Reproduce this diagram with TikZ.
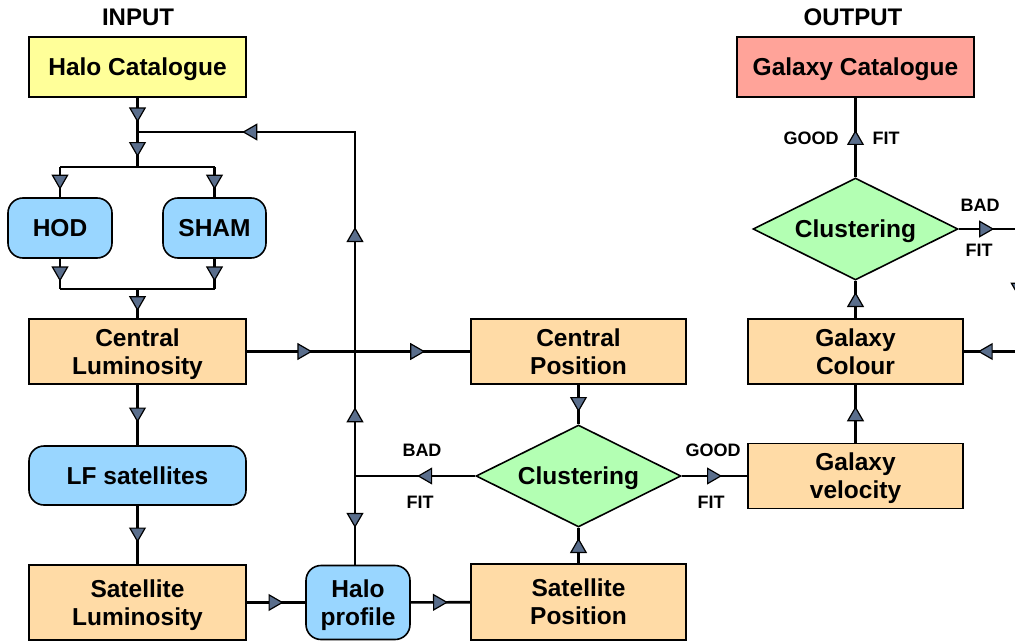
\documentclass[tikz,border=0pt]{standalone}
\usepackage{fontspec}
\setmainfont{Liberation Sans}
\usepackage{xcolor}
\usepackage{tikz}
\usetikzlibrary{arrows.meta}
\usetikzlibrary{shapes.geometric}
\usetikzlibrary{decorations.markings}
\definecolor{halofill}{HTML}{FFFF99}
\definecolor{stepfill}{HTML}{FFDBA6}
\definecolor{choicefill}{HTML}{99D6FF}
\definecolor{testfill}{HTML}{B3FFB3}
\definecolor{outfill}{HTML}{FFA399}
\definecolor{tipfill}{HTML}{5A6E8C}
\tikzset{
    tri/.tip = {Triangle[length=15pt, width=17pt, fill=tipfill, line width=1.2pt]},
    flow/.style = {postaction={decorate, decoration={markings,
        mark=at position #1 with {\pgftransformxshift{7.5pt}\arrow{tri}}}}},
    flow/.default = 0.5,
    link/.style = {draw=black, line width=2.6pt}
}
\tikzset{
    box/.style = {draw=black, line width=1.6pt, align=center, inner sep=0pt, text centered,
        text depth=0pt, font=\fontsize{24.5}{28}\selectfont\bfseries},
    inbox/.style = {box, rectangle, fill=halofill, minimum width=217pt, minimum height=60pt},
    outbox/.style = {box, rectangle, fill=outfill, minimum width=237pt, minimum height=60pt},
    stepbox/.style = {box, rectangle, fill=stepfill, minimum width=215pt},
    choice/.style = {box, rectangle, rounded corners=15pt, fill=choicefill, minimum height=60pt},
    test/.style = {box, diamond, aspect=2, fill=testfill, minimum width=205pt, minimum height=102pt},
    title/.style = {font=\fontsize{24}{28}\selectfont\bfseries, inner sep=0pt},
    verdict/.style = {font=\fontsize{18}{20}\selectfont\bfseries, inner sep=0pt}
}

\begin{document}
\begin{tikzpicture}[x=1pt, y=-1pt]
    \useasboundingbox (0,0) rectangle (1015,642);
    \clip (0,0) rectangle (1015,642);

    % input side
    \node [title] (inlab) at (138,17) {INPUT};
    \node [inbox] (halo) at (137.5,67) {Halo Catalogue};
    \node [choice, minimum width=104pt] (hod) at (60,228) {HOD};
    \node [choice, minimum width=103pt] (sham) at (214.5,228) {SHAM};
    \node [stepbox, minimum width=217pt, minimum height=65pt] (cenlum) at (137.5,351.5) {Central\\Luminosity};
    \node [choice, minimum width=217pt, minimum height=59pt] (lfsat) at (137.5,475.5) {LF satellites};
    \node [stepbox, minimum width=217pt, minimum height=75pt] (satlum) at (137.5,602.5) {Satellite\\Luminosity};
    \node [choice, minimum width=104pt, minimum height=74pt] (hprof) at (358,602.5) {Halo\\profile};

    % positions and first clustering test
    \node [stepbox, minimum height=65pt] (cenpos) at (578.5,351.5) {Central\\Position};
    \node [stepbox, minimum height=76pt] (satpos) at (578.5,602) {Satellite\\Position};
    \node [test] (clusa) at (578.5,476) {Clustering};

    % output side
    \node [stepbox, minimum height=65pt] (galvel) at (855.5,476) {Galaxy\\velocity};
    \node [stepbox, minimum height=65pt] (galcol) at (855.5,351.5) {Galaxy\\Colour};
    \node [test] (clusb) at (855.5,229) {Clustering};
    \node [outbox] (galcat) at (855.5,67) {Galaxy Catalogue};
    \node [title] (outlab) at (853,17) {OUTPUT};

    \coordinate (split) at (137.5,132);
    \coordinate (fork) at (137.5,167);
    \coordinate (forkl) at (60,167);
    \coordinate (forkr) at (214.5,167);
    \coordinate (joinl) at (60,289);
    \coordinate (joinr) at (214.5,289);
    \coordinate (join) at (137.5,289);
    \coordinate (loop) at (355,476);
    \coordinate (looptop) at (355,132);
    \coordinate (outa) at (1019,229);
    \coordinate (outb) at (1019,351.5);

    \draw [link, flow] (halo) -- (split);
    \draw [link, flow] (split) -- (fork);
    \draw [link] (forkl) -- (forkr);
    \draw [link, flow] (forkl) -- (hod);
    \draw [link, flow] (forkr) -- (sham);
    \draw [link, flow] (hod) -- (joinl);
    \draw [link, flow] (sham) -- (joinr);
    \draw [link] (joinl) -- (joinr);
    \draw [link, flow] (join) -- (cenlum);
    \draw [link, flow=0.26, flow=0.765] (cenlum) -- (cenpos);
    \draw [link, flow] (cenlum) -- (lfsat);
    \draw [link, flow] (lfsat) -- (satlum);
    \draw [link, flow] (satlum) -- (hprof);
    \draw [link, flow] (hprof) -- (satpos);
    \draw [link, flow] (satpos) -- (clusa);
    \draw [link, flow] (cenpos) -- (clusa);
    \draw [link, flow=0.42] (clusa) -- (loop);
    \draw [link, flow] (loop) -- (loop |- hprof.north);
    \draw [link, flow=0.109, flow=0.43, flow=0.80] (loop) -- (looptop) -- (split);
    \draw [link, flow] (clusa) -- (galvel);
    \draw [link, flow] (galvel) -- (galcol);
    \draw [link, flow] (galcol) -- (clusb);
    \draw [link, flow] (clusb) -- (galcat);
    \draw [link, flow=0.117, flow=0.51, flow=0.91] (clusb) -- (outa) -- (outb) -- (galcol);

    % verdict labels
    \node [verdict] (bada) at (422,450) {BAD};
    \node [verdict] (fita) at (420,502) {FIT};
    \node [verdict] (gooda) at (713,450) {GOOD};
    \node [verdict] (fitb) at (711,502) {FIT};
    \node [verdict] (goodb) at (811,138) {GOOD};
    \node [verdict] (fitc) at (886,138) {FIT};
    \node [verdict] (badb) at (980,205) {BAD};
    \node [verdict] (fitd) at (979,250) {FIT};
\end{tikzpicture}
\end{document}
